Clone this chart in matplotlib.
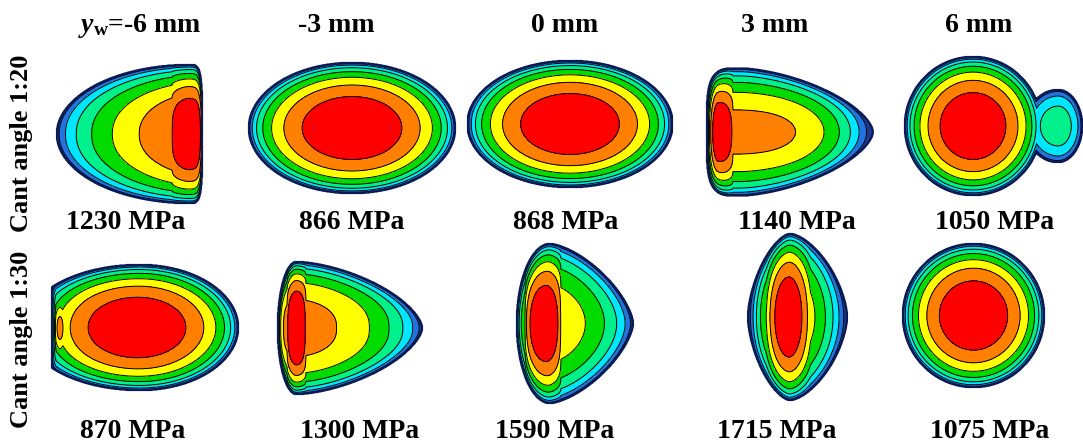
import numpy as np
import matplotlib
matplotlib.use("Agg")
import matplotlib.pyplot as plt

plt.rcParams['font.family'] = ['Liberation Serif', 'DejaVu Serif']
plt.rcParams['mathtext.fontset'] = 'custom'
plt.rcParams['mathtext.it'] = 'Liberation Serif:italic:bold'
plt.rcParams['mathtext.rm'] = 'Liberation Serif:bold'

# column / row headings
yw_labels = ['-6 mm', '-3 mm', '0 mm', '3 mm', '6 mm']
cant_labels = ['Cant angle 1:20', 'Cant angle 1:30']

# peak contact pressure of every patch (row 1:20 then row 1:30)
peak_mpa = [1230, 866, 868, 1140, 1050, 870, 1300, 1590, 1715, 1075]

# patch shape, in pixels relative to the panel centre
peak_dx = [53, 2, 2, -67, -7, 2, -53.5, -23, 3.5, -6.5]
peak_dy = [4, -2, -6, 2, -4, 2.5, 3, -1.5, -8, -9.5]
reach_left = [131, 103, 102, 11, 68, 101, 18.5, 28, 40.5, 70.5]
reach_right = [15, 103, 102, 155, 68, 101, 125.5, 88, 58.5, 70.5]
exp_left = [(1.2, .5), (2, .5), (2, .5), (2, .5), (2, .5), (2, .5), (6, .5), (4, .5), (3, 1), (2, .5)]
exp_right = [(8, .4), (2, .5), (2, .5), (4, 1), (2, .5), (2, .5), (2, .6), (2, .6), (2, .8), (2, .5)]
plateau = [.9, 1, 1, .8, 1, 1, .8, .72, .75, 1]
spike = [(16, 16, .5), (1, 1, .5), (1, 1, .5), (11, 15, .5), (1, 1, .5),
         (1, 1, .5), (9.5, 9.5, .5), (20, 16, .5), (22, 22, 1), (1, 1, .5)]
half_height = [69, 65, 63, 63.5, 69, 62.5, 66, 79.5, 83, 71.5]
vert_exp = [2.2, 2, 2, 2, 2, 2, 2.5, 2, 2, 2]
height_dx = [55, 2, 2, -45, -7, 5, -53.5, -18, 5, -6.5]
height_left = [133, 103, 102.5, 33, 68, 115, 18.5, 33, 42, 70.5]
height_right = [12, 103, 102.5, 133, 68, 98, 125.5, 83, 57, 70.5]
height_exp = [(2, 4), (2, 2), (2, 2), (4, 1.6), (2, 2), (2, 2), (2, 1.6), (2, 1.5), (1.6, 1.6), (2, 2)]
cut_left = [None, None, None, None, None, (-83, 0), None, None, None, None]

# small extra lobes (panel index, dx, dy, half widths, half height, relative peak)
lobe_panel = [4, 5]
lobe_dx = [78, -75]
lobe_dy = [-4, 3]
lobe_a = [(32, 24), (8.6, 8.6)]
lobe_b = [36, 33]
lobe_amp = [.45, .8]

band_colors = ['#1b3a8c', '#2272e0', '#00e6ff', '#00f08c', '#00dc00',
               '#ffff00', '#ff8000', '#ff0000']

# layout (pixels)
col_x = [135, 350, 568, 785, 980]
row_y = [130, 325]
head_dx = [5, -14, -3, -10, -1]
lab_dx = [[-9, 2, -2, 12, 15], [-2, 10, -13, -8, 10]]
lab_base = [229, 438]


def side_profile(d, a_l, a_r, el, er):
    ul = np.clip(-d / a_l, 0, None)
    ur = np.clip(d / a_r, 0, None)
    left = np.clip(1 - ul ** el[0], 0, None) ** el[1]
    right = np.clip(1 - ur ** er[0], 0, None) ** er[1]
    return np.where(d < 0, left, right)


fig = plt.figure(figsize=(10.83, 4.45), dpi=100)
ax = fig.add_axes([0, 0, 1, 1])
ax.set_xlim(0, 1083)
ax.set_ylim(445, 0)
ax.axis('off')

for i, pk in enumerate(peak_mpa):
    r, c = divmod(i, 5)
    cx, cy = col_x[c], row_y[r]
    xs = np.arange(cx - 140, cx + 160, 0.5)
    ys = np.arange(cy - 100, cy + 100, 0.5)
    X, Y = np.meshgrid(xs, ys)
    dx = X - (cx + peak_dx[i])
    dy = Y - (cy + peak_dy[i])

    A = plateau[i]
    sl, sr, sk = spike[i]
    f = A * side_profile(dx, reach_left[i], reach_right[i], exp_left[i], exp_right[i])
    f += (1 - A) * side_profile(dx, sl, sr, (2, sk), (2, sk))

    wx = X - (cx + height_dx[i])
    nl, nr = height_exp[i]
    b = half_height[i] * np.where(
        wx < 0,
        np.clip(1 - np.abs(wx / height_left[i]) ** nl, 0, None) ** (1 / nl),
        np.clip(1 - np.abs(wx / height_right[i]) ** nr, 0, None) ** (1 / nr))
    g = np.sqrt(np.clip(1 - np.abs(dy / np.maximum(b, 1e-6)) ** vert_exp[i], 0, None))
    g[b <= 1e-6] = 0
    p = f * g

    for j, n in enumerate(lobe_panel):
        if n == i:
            lx = X - cx - lobe_dx[j]
            u = np.where(lx < 0, lx / lobe_a[j][0], lx / lobe_a[j][1])
            v = (Y - cy - lobe_dy[j]) / lobe_b[j]
            lobe = lobe_amp[j] * np.sqrt(np.clip(1 - u ** 2 - v ** 2, 0, None))
            p = np.maximum(p, lobe)

    if cut_left[i] is not None:
        x0, k = cut_left[i]
        edge = cx + x0 + k * dy ** 2
        p *= np.sqrt(np.clip((X - edge) / 4.0, 0, 1))

    P = p * pk
    levels = np.linspace(0, pk, 9)
    levels[0] = pk * 0.004
    ax.contourf(X, Y, P, levels=levels, colors=band_colors)
    ax.contour(X, Y, P, levels=levels[1:-1], colors='k', linewidths=0.7)
    ax.contour(X, Y, P, levels=[levels[0]], colors='#0b1a55', linewidths=1.6)

    ax.text(cx + lab_dx[r][c], lab_base[r], f'{pk} MPa', fontsize=20,
            fontweight='bold', ha='center', va='baseline')

for c, lab in enumerate(yw_labels):
    txt = r'$y_{\mathrm{w}}$=' + lab if c == 0 else lab
    ax.text(col_x[c] + head_dx[c], 32, txt, fontsize=20, fontweight='bold',
            ha='center', va='baseline')

for r, lab in enumerate(cant_labels):
    ax.text(22, [143, 339][r], lab, fontsize=19, fontweight='bold',
            rotation=90, ha='center', va='center')

fig.savefig('out.png', dpi=100)
